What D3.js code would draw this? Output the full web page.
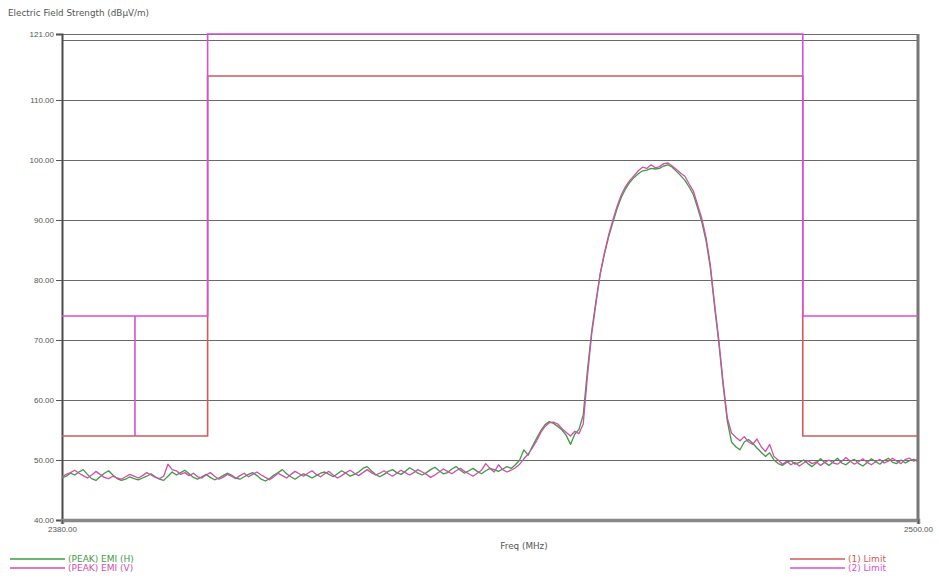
<!DOCTYPE html>
<html>
<head>
<meta charset="utf-8">
<script src="https://cdn.jsdelivr.net/npm/d3@7/dist/d3.min.js"></script>
<style>
  html, body { margin: 0; padding: 0; background: #fff; }
  svg { display: block; font-family: "DejaVu Sans", Verdana, sans-serif; }
</style>
</head>
<body>
<svg id="chart" width="939" height="580"></svg>
<script>
// Sweep: 2380–2500 MHz, log-spaced receiver points
const freqStart = 2380;
const freqStop = 2500;
const sweepPoints = 203;

// (PEAK) EMI (H) readings, dBµV/m
const emiH = [
  47.0,47.3,47.8,47.5,48.0,48.4,47.6,46.9,46.6,47.2,
  47.8,48.2,47.5,46.9,46.6,46.8,47.2,46.9,46.7,47.0,
  47.3,47.7,47.2,46.8,46.6,47.3,48.0,47.5,47.9,48.3,
  47.7,47.1,46.8,47.2,47.6,47.1,46.7,47.0,47.4,47.8,
  47.5,47.0,46.8,47.2,47.6,47.9,47.4,46.8,46.5,46.9,
  47.5,47.9,48.4,47.7,47.2,46.8,47.3,47.7,47.4,47.0,
  47.4,47.8,48.0,47.6,47.2,47.7,48.2,47.8,47.3,47.6,
  48.0,48.6,48.9,48.2,47.6,47.2,47.6,48.1,48.4,47.9,
  47.6,48.1,48.7,48.3,47.8,47.5,47.9,48.4,48.8,48.2,
  47.7,47.9,48.5,48.9,48.3,47.8,48.2,48.6,48.1,47.7,
  48.2,48.6,48.4,48.1,48.5,48.9,48.6,49.2,50.0,51.7,
  50.8,52.3,53.6,54.9,55.9,56.4,56.1,55.6,55.0,54.1,
  52.6,54.3,55.1,57.5,65.0,71.5,76.5,81.0,84.3,87.2,
  89.6,91.9,93.8,95.2,96.3,97.1,97.7,98.2,98.3,98.6,
  98.5,98.6,99.0,99.2,98.8,98.1,97.4,96.6,95.5,94.2,
  92.0,89.6,86.5,82.0,75.5,69.5,62.5,56.5,53.0,52.2,
  51.7,53.0,53.4,52.8,52.0,51.3,50.6,51.2,50.0,49.4,
  49.1,49.6,49.9,49.3,49.6,50.0,49.4,48.9,49.5,50.2,
  49.6,49.1,49.7,50.3,49.5,49.2,49.8,50.1,49.4,49.0,
  49.6,50.2,49.7,49.3,49.9,50.3,49.6,49.4,50.0,49.5,
  49.9,50.1,49.7
];

// (PEAK) EMI (V) readings, dBµV/m
const emiV = [
  47.2,47.6,47.9,48.3,47.8,47.4,47.0,47.5,48.1,47.6,
  47.1,46.9,47.3,47.0,46.8,47.2,47.6,47.3,47.0,47.4,
  47.9,47.5,47.1,46.9,47.3,49.3,48.4,48.2,47.6,47.9,
  47.4,47.8,47.2,47.0,47.5,47.9,47.3,46.8,47.1,47.6,
  47.3,46.9,47.4,47.8,47.2,47.6,48.0,47.5,47.1,46.7,
  47.2,47.8,47.4,47.0,47.6,48.1,47.7,47.3,47.8,48.2,
  47.6,47.2,47.7,48.1,47.5,47.0,47.4,47.9,48.3,47.8,
  47.4,47.9,48.4,47.9,47.5,47.8,48.2,47.7,47.3,47.8,
  48.3,47.9,47.5,47.9,48.4,48.0,47.6,47.1,47.5,48.0,
  48.5,48.1,47.7,48.2,48.6,48.1,47.7,47.3,47.8,48.3,
  49.4,48.6,48.0,49.2,48.4,48.0,48.3,48.7,49.3,50.2,
  51.0,52.0,53.2,54.6,55.6,56.2,56.3,56.0,55.2,54.6,
  54.0,54.8,54.4,56.0,64.0,71.0,76.0,81.0,84.5,87.5,
  90.0,92.3,94.2,95.6,96.6,97.4,98.2,98.8,98.6,99.2,
  98.7,98.9,99.4,99.5,99.0,98.4,97.8,97.3,96.0,94.8,
  92.5,90.2,87.0,82.5,76.0,70.0,63.0,57.0,54.5,53.8,
  53.2,53.9,53.0,52.6,53.5,52.2,51.4,52.6,50.6,50.0,
  49.3,49.8,49.2,49.6,49.0,49.5,49.9,49.4,49.7,49.1,
  49.6,50.0,49.5,49.3,49.8,50.4,49.8,49.3,49.7,50.2,
  49.6,49.2,49.7,50.1,49.5,49.8,50.3,49.8,49.4,50.1,
  50.3,49.8,50.2
];

// Limit lines as [MHz, dBµV/m] vertices
const limit1 = [[2380, 54], [2400, 54], [2400, 114], [2483.5, 114], [2483.5, 54], [2500, 54]];
const limit2 = [[2380, 74], [2390, 74], [2390, 54], [2390, 74], [2400, 74], [2400, 121],
                [2483.5, 121], [2483.5, 74], [2500, 74]];

const gridLevels = [40, 50, 60, 70, 80, 90, 100, 110, 120, 121];
const yTicks = [40, 50, 60, 70, 80, 90, 100, 110, 121];
const xTicks = [2380, 2500];

const series = [
  { name: "(PEAK) EMI (H)", values: emiH, color: "#3f9a45" },
  { name: "(PEAK) EMI (V)", values: emiV, color: "#d04fa8" }
];
const limits = [
  { name: "(1) Limit", points: limit1, color: "#cf5b5b" },
  { name: "(2) Limit", points: limit2, color: "#d452d4" }
];

const svg = d3.select("#chart");
const plot = { left: 62, right: 918, top: 34, bottom: 520 };

const x = d3.scaleLog().domain([freqStart, freqStop]).range([plot.left, plot.right]);
const y = d3.scaleLinear().domain([40, 121]).range([plot.bottom, plot.top]);

// receiver frequencies, evenly spaced on the log axis
const sweepFreqs = d3.range(sweepPoints).map(i =>
  freqStart * Math.pow(freqStop / freqStart, i / (sweepPoints - 1)));

// horizontal grid
svg.append("g")
  .selectAll("line")
  .data(gridLevels)
  .join("line")
  .attr("x1", plot.left).attr("x2", plot.right)
  .attr("y1", d => Math.round(y(d)) + 0.5).attr("y2", d => Math.round(y(d)) + 0.5)
  .attr("stroke", "#6a6a6a").attr("stroke-width", 1.2);

// y axis with tick labels
const yAxis = d3.axisLeft(y).tickValues(yTicks).tickFormat(d3.format(".2f")).tickSize(6).tickPadding(2);
const gy = svg.append("g").attr("transform", `translate(${plot.left},0)`).call(yAxis);
gy.select(".domain").attr("stroke", "#4a4a4a").attr("stroke-width", 2);
gy.selectAll(".tick line").attr("stroke", "#555");
gy.selectAll(".tick text").attr("fill", "#555").attr("font-size", 8);

// x axis with end labels
const xAxis = d3.axisBottom(x).tickValues(xTicks).tickFormat(d3.format(".2f")).tickSize(4).tickPadding(2);
const gx = svg.append("g").attr("transform", `translate(0,${plot.bottom})`).call(xAxis);
gx.select(".domain").attr("stroke", "#888").attr("stroke-width", 3.5);
gx.selectAll(".tick line").attr("stroke", "#555");
gx.selectAll(".tick text").attr("fill", "#555").attr("font-size", 8);

// right border
svg.append("line")
  .attr("x1", plot.right).attr("x2", plot.right)
  .attr("y1", plot.top).attr("y2", plot.bottom)
  .attr("stroke", "#777").attr("stroke-width", 3);

// limit lines
const limitLine = d3.line().x(d => x(d[0])).y(d => y(d[1]));
svg.append("g")
  .selectAll("path")
  .data(limits)
  .join("path")
  .attr("d", d => limitLine(d.points))
  .attr("fill", "none")
  .attr("stroke", d => d.color)
  .attr("stroke-width", 1.6);

// measured traces
const traceLine = d3.line()
  .x((d, i) => x(sweepFreqs[i]))
  .y(d => y(d));
svg.append("g")
  .selectAll("path")
  .data(series)
  .join("path")
  .attr("d", d => traceLine(d.values))
  .attr("fill", "none")
  .attr("stroke", d => d.color)
  .attr("stroke-width", 1.3)
  .attr("stroke-linejoin", "round");

// axis titles
svg.append("text")
  .attr("x", 8).attr("y", 16)
  .attr("font-size", 8.8).attr("fill", "#555")
  .text("Electric Field Strength (dBµV/m)");
svg.append("text")
  .attr("x", 524).attr("y", 549)
  .attr("text-anchor", "middle")
  .attr("font-size", 8.8).attr("fill", "#555")
  .text("Freq (MHz)");

// legends
const legLeft = svg.append("g");
series.forEach((s, i) => {
  const yy = 559 + i * 9;
  legLeft.append("line").attr("x1", 10).attr("x2", 65).attr("y1", yy).attr("y2", yy)
    .attr("stroke", s.color).attr("stroke-width", 1.3);
  legLeft.append("text").attr("x", 68).attr("y", yy + 3)
    .attr("font-size", 9).attr("fill", s.color).text(s.name);
});
const legRight = svg.append("g");
limits.forEach((s, i) => {
  const yy = 559 + i * 9;
  legRight.append("line").attr("x1", 790).attr("x2", 845).attr("y1", yy).attr("y2", yy)
    .attr("stroke", s.color).attr("stroke-width", 1.3);
  legRight.append("text").attr("x", 848).attr("y", yy + 3)
    .attr("font-size", 9).attr("fill", s.color).text(s.name);
});
</script>
</body>
</html>
